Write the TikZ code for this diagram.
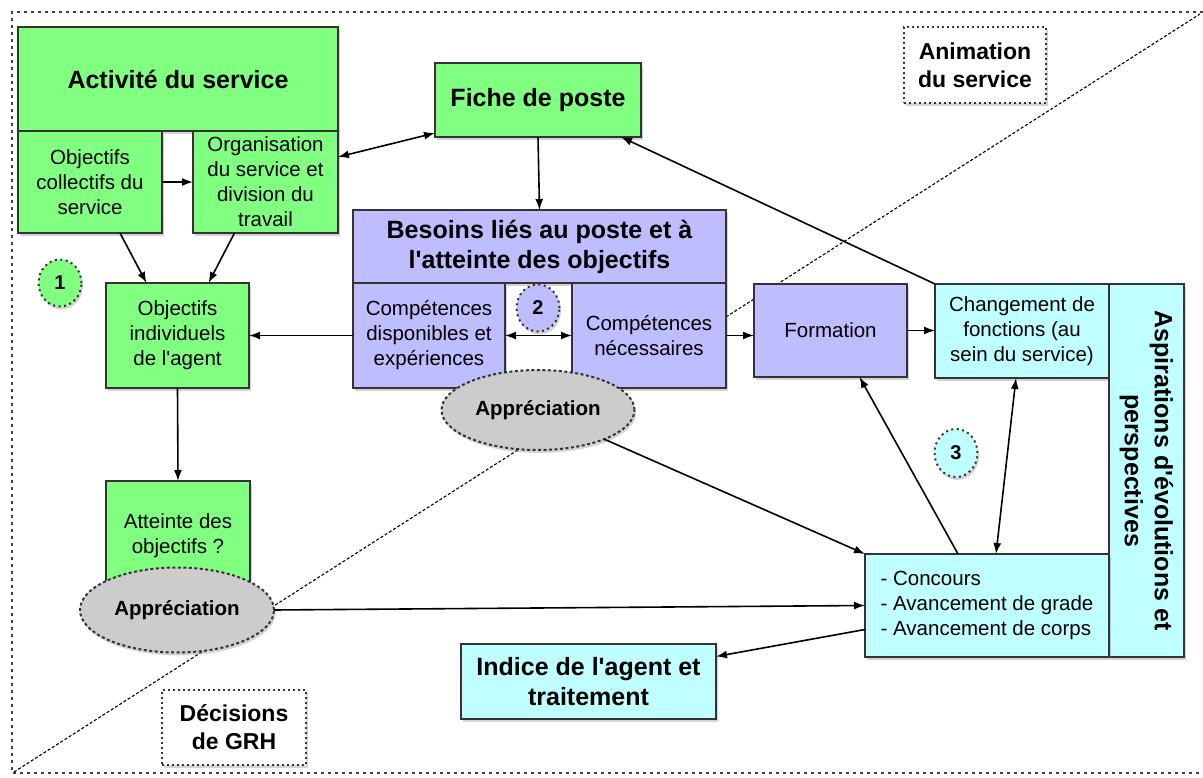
\documentclass[tikz,border=0pt]{standalone}
\usepackage{fontspec}
\setmainfont{Liberation Sans}
\usepackage{tikz}
\usetikzlibrary{arrows.meta,shapes.geometric,shadows}
\newcommand\apos{\textquotesingle}
\definecolor{vert}{HTML}{80FF80}
\definecolor{mauve}{HTML}{BDBDFF}
\definecolor{ciel}{HTML}{BFFFFF}

\begin{document}
\begin{tikzpicture}[x=1pt,y=-1pt,
  every node/.style={inner sep=0pt, outer sep=0pt, align=center},
  boite/.style={draw=black!80, line width=2pt, drop shadow={shadow xshift=1.5pt, shadow yshift=-3pt, opacity=.35}},
  txt/.style={font=\fontsize{20.5}{25}\selectfont},
  titre/.style={font=\fontsize{25}{30}\selectfont\bfseries},
  etiq/.style={boite, fill=white, dash pattern=on 2pt off 3pt, font=\fontsize{23}{28}\selectfont\bfseries},
  appr/.style={ellipse, boite, fill=gray!40, dash pattern=on 3pt off 2.5pt, font=\fontsize{20.5}{25}\selectfont\bfseries},
  num/.style={ellipse, boite, dash pattern=on 2pt off 3.5pt, minimum width=43pt, minimum height=47pt, font=\fontsize{20}{24}\selectfont\bfseries},
  cadre/.style={draw=black!75, line width=2.6pt, dash pattern=on 2.6pt off 4.4pt},
  diag/.style={line width=1.1pt, dash pattern=on 3pt off 2pt},
  fleche/.style={-{Latex[length=11pt,width=8pt]}, line width=1.6pt},
  fleches/.style={{Latex[length=11pt,width=8pt]}-{Latex[length=11pt,width=8pt]}, line width=1.6pt}]
  \useasboundingbox (0,0) rectangle (1203,778);
  % cadre et diagonale
  \draw[cadre] (1203,12) -- (12,12) -- (12,773) -- (1203,773);
  \draw[diag] (14,772) -- (1200,14);
  % etiquettes
  \node[etiq, minimum width=142pt, minimum height=76pt] (animation) at (975,65) {Animation\\du service};
  \node[etiq, minimum width=144pt, minimum height=75pt] (decisions) at (234,727.5) {Décisions\\de GRH};
  % service (vert)
  \node[boite, fill=vert, titre, minimum width=320pt, minimum height=104pt] (activite) at (178,79) {Activité du service};
  \node[boite, fill=vert, txt, minimum width=144pt, minimum height=102pt] (collectifs) at (90,182) {Objectifs\\collectifs du\\service};
  \node[boite, fill=vert, txt, minimum width=145pt, minimum height=102pt] (organisation) at (265.5,182) {Organisation\\du service et\\division du\\travail};
  \node[boite, fill=vert, txt, minimum width=143pt, minimum height=105pt] (indiv) at (177.5,335.5) {Objectifs\\individuels\\de l\apos agent};
  \node[boite, fill=vert, txt, minimum width=144pt, minimum height=109pt] (atteinte) at (178,535.5) {Atteinte des\\objectifs ?};
  \node[boite, fill=vert, titre, minimum width=206pt, minimum height=74pt] (fiche) at (538,100) {Fiche de poste};
  % besoins (mauve)
  \node[boite, fill=mauve, titre, minimum width=373pt, minimum height=73pt] (besoins) at (539.5,246.5) {Besoins liés au poste et à\\l\apos atteinte des objectifs};
  \node[boite, fill=mauve, txt, minimum width=152pt, minimum height=105pt] (dispo) at (429,335.5) {Compétences\\disponibles et\\expériences};
  \node[boite, fill=mauve, txt, minimum width=154pt, minimum height=105pt] (necess) at (649,335.5) {Compétences\\nécessaires};
  \node[boite, fill=mauve, txt, minimum width=153pt, minimum height=93pt] (formation) at (830.5,330.5) {Formation};
  % evolutions (ciel)
  \node[boite, fill=ciel, txt, minimum width=174pt, minimum height=94pt] (changement) at (1022,331) {Changement de\\fonctions (au\\sein du service)};
  \node[boite, fill=ciel, titre, rotate=-90, minimum width=373pt, minimum height=75pt] (aspirations) at (1146.5,470.5) {Aspirations d\apos évolutions et\\perspectives};
  \node[boite, fill=ciel, txt, align=left, minimum width=244pt, minimum height=103pt] (concours) at (987,605.5) {- Concours\\- Avancement de grade\\- Avancement de corps};
  \node[boite, fill=ciel, titre, minimum width=255pt, minimum height=75pt] (indice) at (588.5,681.5) {Indice de l\apos agent et\\traitement};
  % appreciations et numeros
  \node[appr, minimum width=193pt, minimum height=80pt] (appr1) at (538,410) {Appréciation};
  \node[appr, minimum width=194pt, minimum height=85pt] (appr2) at (177,610) {Appréciation};
  \node[num, fill=vert] (n1) at (60,283) {1};
  \node[num, fill=mauve] (n2) at (538,308) {2};
  \node[num, fill=ciel, minimum height=48pt] (n3) at (956,453) {3};
  % fleches
  \draw[fleche] (collectifs.east) -- (organisation.west);
  \draw[fleche] ([xshift=30pt]collectifs.south) -- ([xshift=-31pt]indiv.north);
  \draw[fleche] ([xshift=-31pt]organisation.south) -- ([xshift=31pt]indiv.north);
  \draw[fleches] ([yshift=25pt]organisation.east) -- ([yshift=-33pt]fiche.west);
  \draw[fleche] (fiche.south) -- (besoins.north);
  \draw[fleche] (dispo.west) -- (indiv.east);
  \draw[fleches] (dispo.east) -- (necess.west);
  \draw[fleche] (necess.east) -- (formation.west |- necess.east);
  \draw[fleche] (formation.east) -- (changement.west |- formation.east);
  \draw[fleche] (changement.north west) -- ([xshift=-20pt]fiche.south east);
  \draw[fleche] ([xshift=-29pt]concours.north) -- ([xshift=29pt]formation.south);
  \draw[fleches] ([xshift=-6pt]changement.south) -- ([xshift=9pt]concours.north);
  \draw[fleche] (appr1) -- (concours.north west);
  \draw[fleche] (appr2.east) -- (concours.west);
  \draw[fleche] ([yshift=-24pt]concours.west) -- ([yshift=25pt]indice.east);
  \draw[fleche] (indiv.south) -- (atteinte.north);
\end{tikzpicture}
\end{document}
